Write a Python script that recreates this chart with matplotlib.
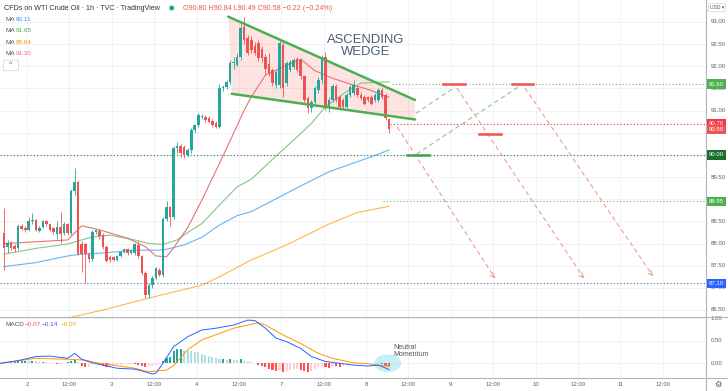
import matplotlib
matplotlib.use('Agg')
import matplotlib.pyplot as plt
import matplotlib.transforms as mtransforms
from matplotlib.patches import Ellipse, Polygon, FancyBboxPatch
from matplotlib.lines import Line2D

plt.rcParams['font.family'] = ['Liberation Sans', 'DejaVu Sans']

# ---------------- data ----------------
opens = [88.23, 87.92, 88.02, 87.95, 87.89, 88.40, 88.36, 88.31, 88.50, 88.53,
         88.29, 88.38, 88.50, 88.44, 88.35, 88.21, 88.37, 88.23, 88.44, 88.23,
         89.19, 89.40, 88.00, 88.00, 87.76, 87.64, 88.27, 88.29, 88.20, 87.93,
         87.70, 87.70, 87.63, 87.72, 87.82, 87.87, 87.79, 87.78, 87.97, 87.72,
         87.34, 86.84, 87.06, 87.23, 87.40, 87.29, 88.55, 88.82, 88.61, 90.15,
         90.20, 90.17, 89.99, 90.10, 90.56, 90.67, 90.86, 90.86, 90.84, 90.76,
         90.73, 90.64, 91.52, 91.54, 91.65, 92.08, 92.03, 92.22, 92.89, 92.63,
         92.60, 92.45, 92.52, 92.40, 92.22, 92.05, 91.92, 91.58, 91.58, 92.48,
         91.62, 91.92, 91.99, 92.16, 92.14, 91.77, 91.28, 91.05, 91.20, 91.47,
         91.69, 92.22, 91.05, 91.24, 91.55, 91.31, 91.24, 91.09, 91.35, 91.39,
         91.50, 91.35, 91.31, 91.31, 91.31, 91.24, 91.24, 91.47, 91.35, 90.80]
highs = [88.80, 88.08, 88.05, 88.00, 88.45, 88.44, 88.40, 88.60, 88.70, 88.56,
         88.40, 88.52, 88.53, 88.47, 88.38, 88.50, 88.72, 88.48, 88.47, 89.22,
         89.70, 89.44, 88.05, 88.02, 87.80, 88.30, 88.33, 88.32, 88.24, 87.96,
         87.74, 87.73, 87.75, 87.84, 87.90, 87.90, 87.88, 88.02, 88.05, 87.75,
         87.38, 87.10, 87.26, 87.47, 87.45, 88.60, 88.95, 88.85, 90.20, 90.30,
         90.25, 90.22, 90.15, 90.60, 90.70, 90.95, 90.92, 90.90, 90.88, 90.80,
         90.76, 91.60, 91.58, 91.70, 92.15, 92.20, 92.30, 92.95, 93.12, 92.70,
         92.68, 92.55, 92.60, 92.45, 92.28, 92.30, 91.96, 91.92, 92.56, 92.56,
         92.12, 92.14, 92.18, 92.22, 92.18, 91.80, 91.32, 91.25, 91.55, 91.75,
         92.25, 92.33, 91.30, 91.60, 91.60, 91.35, 91.28, 91.40, 91.58, 91.70,
         91.55, 91.42, 91.36, 91.34, 91.36, 91.40, 91.52, 91.52, 91.40, 90.84]
lows = [87.40, 87.78, 87.85, 87.82, 87.86, 88.30, 88.26, 88.28, 88.45, 88.28,
        88.25, 88.35, 88.40, 88.28, 88.22, 88.10, 88.02, 88.20, 88.20, 88.20,
        89.10, 87.74, 87.36, 87.12, 87.58, 87.60, 88.22, 88.10, 87.88, 87.58,
        87.58, 87.60, 87.60, 87.70, 87.78, 87.75, 87.76, 87.75, 87.68, 87.30,
        86.78, 86.76, 87.00, 87.18, 87.26, 87.25, 88.50, 88.40, 88.55, 90.05,
        89.95, 89.93, 89.95, 90.05, 90.50, 90.62, 90.80, 90.75, 90.72, 90.62,
        90.60, 90.60, 91.45, 91.48, 91.60, 91.95, 92.00, 92.15, 92.50, 92.25,
        92.30, 92.25, 92.12, 92.10, 91.80, 91.78, 91.55, 91.52, 91.52, 91.31,
        91.55, 91.88, 91.95, 91.88, 91.72, 91.20, 90.95, 90.98, 91.15, 91.40,
        91.60, 91.02, 90.98, 91.20, 91.20, 91.05, 91.05, 91.05, 91.30, 91.35,
        91.30, 91.24, 91.12, 91.20, 91.12, 91.20, 91.20, 91.26, 90.78, 90.49]
closes = [87.89, 88.02, 87.90, 87.88, 88.40, 88.33, 88.30, 88.51, 88.53, 88.31,
          88.36, 88.50, 88.44, 88.31, 88.27, 88.37, 88.21, 88.44, 88.23, 89.19,
          89.40, 87.76, 87.76, 87.76, 87.64, 88.27, 88.30, 88.16, 87.93, 87.61,
          87.63, 87.63, 87.72, 87.82, 87.88, 87.79, 87.85, 87.99, 87.72, 87.34,
          86.84, 87.06, 87.23, 87.44, 87.29, 88.55, 88.82, 88.61, 90.15, 90.20,
          90.05, 89.99, 90.10, 90.56, 90.67, 90.90, 90.88, 90.79, 90.75, 90.67,
          90.64, 91.52, 91.54, 91.65, 92.08, 92.10, 92.22, 92.86, 92.59, 92.29,
          92.36, 92.30, 92.18, 92.18, 91.95, 91.84, 91.62, 91.88, 92.52, 91.50,
          92.07, 92.10, 92.14, 91.92, 91.77, 91.24, 91.05, 91.20, 91.50, 91.69,
          92.20, 91.09, 91.24, 91.55, 91.24, 91.09, 91.09, 91.35, 91.53, 91.58,
          91.35, 91.28, 91.16, 91.24, 91.16, 91.35, 91.47, 91.31, 90.83, 90.58]

ma_red_x = [0, 9, 18, 22, 27, 35, 40, 43, 46, 48, 52, 56, 61, 65, 68, 70, 74, 79, 84, 88, 93, 98, 103, 109]
ma_red_y = [88.00, 88.04, 88.08, 88.40, 88.31, 88.12, 87.93, 87.72, 87.70, 87.90, 88.36, 88.98,
            89.81, 90.49, 91.01, 91.31, 91.80, 91.99, 92.16, 91.90, 91.73, 91.60, 91.48, 91.30]
ma_green_x = [0, 9, 18, 25, 30, 37, 41, 45, 49, 52, 56, 61, 66, 70, 76, 83, 87, 91, 97, 101, 109]
ma_green_y = [87.76, 87.89, 87.99, 88.15, 88.19, 88.08, 88.00, 87.98, 88.08, 88.25, 88.45, 88.87,
              89.28, 89.45, 89.90, 90.41, 90.71, 91.09, 91.43, 91.62, 91.65]
ma_blue_x = [0, 9, 18, 22, 27, 37, 44, 46, 51, 56, 61, 66, 70, 84, 92, 104, 109]
ma_blue_y = [87.48, 87.57, 87.72, 87.76, 87.78, 87.85, 87.85, 87.87, 87.97, 88.14, 88.42, 88.63,
             88.72, 89.30, 89.62, 89.96, 90.11]
ma_orange_x = [17, 28, 41, 56, 61, 70, 80, 92, 100, 109]
ma_orange_y = [86.30, 86.50, 86.77, 87.06, 87.25, 87.63, 87.97, 88.44, 88.70, 88.84]

macd_x = [-1, 4, 9, 13, 18, 20, 22, 25, 32, 37, 40, 42, 43, 45, 48, 52, 56, 60, 65, 69, 71,
          74, 77, 80, 84, 87, 91, 95, 99, 103, 106, 109]
macd_y = [0.00, 0.06, 0.15, 0.16, 0.11, 0.22, 0.09, 0.01, -0.11, -0.13, -0.19, -0.24, -0.22, 0.00,
          0.37, 0.59, 0.74, 0.78, 0.85, 0.96, 0.95, 0.78, 0.56, 0.48, 0.33, 0.15, 0.04, 0.00, -0.04,
          -0.06, -0.04, -0.14]
signal_x = [-1, 9, 18, 23, 27, 37, 41, 46, 48, 52, 56, 65, 72, 74, 79, 84, 89, 93, 99, 103, 109]
signal_y = [0.00, 0.11, 0.09, 0.07, 0.00, -0.11, -0.19, -0.15, -0.05, 0.30, 0.52, 0.78, 0.90, 0.85,
            0.63, 0.44, 0.22, 0.11, 0.01, -0.01, -0.07]
hist = [0.01, 0.01, 0.02, 0.03, 0.05, 0.05, 0.06, 0.05, 0.05, 0.04,
        0.03, 0.03, 0.02, 0.01, 0.00, -0.01, -0.01, 0.01, 0.02, 0.05,
        0.07, 0.03, -0.05, -0.08, -0.08, -0.04, -0.02, -0.03, -0.06, -0.08,
        -0.07, -0.06, -0.04, -0.03, -0.02, -0.02, -0.01, -0.02, -0.04, -0.07,
        -0.08, -0.07, -0.05, -0.03, -0.02, 0.06, 0.12, 0.15, 0.27, 0.31,
        0.32, 0.30, 0.28, 0.27, 0.26, 0.24, 0.21, 0.19, 0.16, 0.14,
        0.11, 0.09, 0.09, 0.08, 0.09, 0.08, 0.07, 0.10, 0.06, 0.04,
        0.02, 0.00, -0.03, -0.06, -0.09, -0.12, -0.15, -0.18, -0.16, -0.20,
        -0.18, -0.15, -0.13, -0.12, -0.15, -0.18, -0.19, -0.17, -0.12, -0.09,
        -0.07, -0.09, -0.10, -0.06, -0.07, -0.08, -0.07, -0.04, -0.02, -0.02,
        -0.01, -0.01, -0.02, -0.01, 0.00, 0.01, 0.00, -0.02, -0.05, -0.07]

time_labels = ["2", "12:00", "3", "12:00", "4", "12:00", "7", "12:00", "8", "12:00",
               "9", "12:00", "10", "12:00", "11", "12:00"]
price_ticks = [86.5, 87.0, 87.5, 88.0, 88.5, 89.0, 89.5, 90.0, 90.5, 91.0, 91.5, 92.0, 92.5, 93.0]
hidden_ticks = [89.0, 90.0]   # fully covered by level labels in the reference
macd_ticks = [0.0, 0.5, 1.0]

# chart drawings (bar index, price)
wedge_upper = [(63.5, 93.12), (116.35, 91.24)]
wedge_lower = [(64.46, 91.38), (116.35, 90.80)]
level_prices = [91.60, 90.70, 90.00, 88.95, 87.10]
level_starts = [109.8, 109.2, None, 107.3, None]
level_colors = ['#66bb6a', '#e53935', '#2e7d32', '#66bb6a', '#5c6bc0']
target_segments = [((124.3, 130.5), 91.60), ((143.7, 149.8), 91.60), ((134.5, 140.7), 90.47)]
support_segment = ((114.1, 120.3), 90.00)
green_paths = [((116.6, 90.94), (127.7, 91.53)), ((116.8, 90.02), (146.1, 91.56))]
red_paths = [((111.3, 90.63), (139.0, 87.22)), ((128.2, 91.51), (164.2, 87.22)),
             ((147.5, 91.51), (183.7, 87.27))]

# ---------------- figure ----------------
W, H = 728, 391
fig = plt.figure(figsize=(W / 100, H / 100), dpi=100)
fig.patch.set_facecolor('white')
ax = fig.add_axes([0, 1 - 317 / H, 706 / W, 317 / H])
axm = fig.add_axes([0, 1 - 378 / H, 706 / W, 61 / H])

XMIN, XMAX = -1.144, 198.74
ax.set_xlim(XMIN, XMAX)
ax.set_ylim(86.342, 93.4965)
axm.set_xlim(XMIN, XMAX)
axm.set_ylim(-0.327, 1.029)

tick_pos = [6.5 + 12 * k for k in range(len(time_labels))]
grid_c = '#eef0f4'
for a in (ax, axm):
    for s in a.spines.values():
        s.set_visible(False)
    a.set_xticks([])
    a.set_yticks([])
    for t in tick_pos:
        a.axvline(t, color=grid_c, lw=0.6, zorder=0)
for p in price_ticks:
    ax.axhline(p, color=grid_c, lw=0.6, zorder=0)
for m in macd_ticks:
    axm.axhline(m, color=grid_c, lw=0.6, zorder=0)

up_c, dn_c = '#26a69a', '#ef5350'
# wedge fill
(ux0, uy0), (ux1, uy1) = wedge_upper
(lx0, ly0), (lx1, ly1) = wedge_lower
ax.add_patch(Polygon([(ux0, uy0), (ux1, uy1), (lx1, ly1), (lx0, ly0)], closed=True,
                     facecolor='#f44336', alpha=0.14, edgecolor='none', zorder=1))

# moving averages
ax.plot(ma_orange_x, ma_orange_y, color='#ffb74d', lw=0.8, zorder=2)
ax.plot(ma_blue_x, ma_blue_y, color='#64b5f6', lw=0.8, zorder=2)
ax.plot(ma_green_x, ma_green_y, color='#81c784', lw=0.8, zorder=2)
ax.plot(ma_red_x, ma_red_y, color='#e57373', lw=0.8, zorder=2)

# candles
for i, (o, h, l, c) in enumerate(zip(opens, highs, lows, closes)):
    col = up_c if c >= o else dn_c
    ax.vlines(i, l, h, color=col, lw=0.6, zorder=3)
    ax.bar(i, max(abs(c - o), 0.012), bottom=min(o, c), width=0.72, color=col,
           edgecolor='none', zorder=4)

# wedge lines
ax.plot([ux0, ux1], [uy0, uy1], color='#4caf50', lw=1.8, zorder=5, solid_capstyle='round')
ax.plot([lx0, lx1], [ly0, ly1], color='#4caf50', lw=1.8, zorder=5, solid_capstyle='round')

# horizontal levels
for p, s, col in zip(level_prices, level_starts, level_colors):
    x0 = XMIN if s is None else s
    ax.plot([x0, XMAX], [p, p], color=col, lw=0.8, ls=(0, (1, 2)), zorder=2)

for (x0, x1), p in target_segments:
    ax.plot([x0, x1], [p, p], color='#ef5350', lw=1.8, zorder=5)
(sx0, sx1), sp = support_segment
ax.plot([sx0, sx1], [sp, sp], color='#43a047', lw=1.8, zorder=5)

for (a0, a1) in green_paths:
    ax.plot([a0[0], a1[0]], [a0[1], a1[1]], color='#8bc48f', lw=0.8, ls=(0, (4, 3)), zorder=2)
for (a0, a1) in red_paths:
    ax.plot([a0[0], a1[0]], [a0[1], a1[1]], color='#ef9a9a', lw=0.8, ls=(0, (4, 3)), zorder=2)
    ax.annotate('', xy=a1, xytext=(a1[0] - 0.9, a1[1] + 0.08),
                arrowprops=dict(arrowstyle='->', color='#ef9a9a', lw=0.8, mutation_scale=7))

ax.text(102.5, 92.46, 'ASCENDING\nWEDGE', ha='center', va='center', fontsize=9.4,
        color='#4a5e72', family=['Liberation Sans'], linespacing=1.02, zorder=6)

# MACD pane
hcols = []
prev = 0.0
for v in hist:
    if v >= 0:
        hcols.append('#26a69a' if v >= prev else '#b2dfdb')
    else:
        hcols.append('#ff5252' if v < prev else '#ffcdd2')
    prev = v
axm.bar(range(len(hist)), hist, width=0.6, color=hcols, zorder=2)
axm.plot(signal_x, signal_y, color='#ff9800', lw=0.7, zorder=3)
axm.plot(macd_x, macd_y, color='#2962ff', lw=0.7, zorder=3)
axm.add_patch(Ellipse((108.6, 0.0), 7.6, 0.40, facecolor='#80deea', alpha=0.45,
                      edgecolor='none', zorder=1))
axm.text(110.3, 0.43, 'Neutral\nMomentum', ha='left', va='top', fontsize=5,
         color='#555555', linespacing=1.0, zorder=4)

# ---------------- axes labels / chrome ----------------
lab_c = '#5d606b'
bt = mtransforms.blended_transform_factory(fig.transFigure, ax.transData)
for p in price_ticks:
    if p in hidden_ticks:
        continue
    ax.text(711 / W, p, f'{p:.2f}', transform=bt, ha='left', va='center', fontsize=4.3,
            color=lab_c, clip_on=False)
btm = mtransforms.blended_transform_factory(fig.transFigure, axm.transData)
for m in macd_ticks:
    axm.text(711 / W, m, f'{m:.2f}', transform=btm, ha='left', va='center', fontsize=4.3,
             color=lab_c, clip_on=False)

box_labels = [(91.60, '#4caf50'), (90.70, '#f23645'), (90.58, '#ef5350'),
              (90.00, '#1b6e2a'), (88.95, '#4caf50'), (87.10, '#2962ff')]
for p, col in box_labels:
    ax.text(716.5 / W, p, f'{p:.2f}', transform=bt, ha='center', va='center', fontsize=4.3,
            color='white', clip_on=False, zorder=10,
            bbox=dict(boxstyle='square,pad=0.35', fc=col, ec='none'))

bx = mtransforms.blended_transform_factory(axm.transData, fig.transFigure)
for t, lab in zip(tick_pos, time_labels):
    axm.text(t, 7 / H, lab, transform=bx, ha='center', va='center', fontsize=4.3,
             color=lab_c, clip_on=False)

line_c = '#b2b5be'
fig.add_artist(Line2D([0, 1], [1 - 317 / H] * 2, transform=fig.transFigure, color=line_c, lw=0.8))
fig.add_artist(Line2D([0, 1], [1 - 378 / H] * 2, transform=fig.transFigure, color=line_c, lw=0.8))
fig.add_artist(Line2D([706 / W] * 2, [0, 1], transform=fig.transFigure, color=line_c, lw=0.8))

fig.text(718 / W, 1 - 384 / H, '\u2699', ha='center', va='center', fontsize=6,
         color='#555555', family=['DejaVu Sans'])
fig.text(717 / W, 1 - 7.5 / H, 'USD \u25be', ha='center', va='center', fontsize=3.6,
         color='#555555', family=['Liberation Sans', 'DejaVu Sans'],
         bbox=dict(boxstyle='round,pad=0.3', fc='white', ec='#d0d3da', lw=0.5))

# header
fig.text(4 / W, 1 - 8 / H, 'CFDs on WTI Crude Oil \u00b7 1h \u00b7 TVC \u00b7 TradingView',
         ha='left', va='center', fontsize=5.1, color='#333333')
fig.add_artist(Ellipse((171.7 / W, 1 - 8 / H), 5 / W, 5 / H, transform=fig.transFigure,
                       facecolor='#26a69a', edgecolor='none'))
fig.text(183 / W, 1 - 8 / H, 'O90.80 H90.84 L90.49 C90.58 \u22120.22 (\u22120.24%)',
         ha='left', va='center', fontsize=5.1, color='#ef5350')

ma_legend = [('90.11', '#2196f3'), ('91.65', '#4caf50'), ('88.84', '#ff9800'), ('91.30', '#e57373')]
for k, (val, col) in enumerate(ma_legend):
    yy = 1 - (19.3 + 11.35 * k) / H
    fig.text(5 / W, yy, 'MA', ha='left', va='center', fontsize=4.6, color='#555555')
    fig.text(16 / W, yy, val, ha='left', va='center', fontsize=4.6, color=col)
fig.add_artist(FancyBboxPatch((5 / W, 1 - 70 / H), 12 / W, 9 / H, boxstyle='round,pad=0.002',
                              transform=fig.transFigure, facecolor='white', edgecolor='#d0d3da',
                              lw=0.5))
fig.text(11 / W, 1 - 65 / H, '^', ha='center', va='center', fontsize=5, color='#555555')

fig.text(5 / W, 1 - 324 / H, 'MACD', ha='left', va='center', fontsize=4.6, color='#555555')
fig.text(25 / W, 1 - 324 / H, '\u22120.07', ha='left', va='center', fontsize=4.6, color='#ef5350')
fig.text(42 / W, 1 - 324 / H, '\u22120.14', ha='left', va='center', fontsize=4.6, color='#2962ff')
fig.text(61 / W, 1 - 324 / H, '\u22120.07', ha='left', va='center', fontsize=4.6, color='#ff9800')

fig.savefig('out.png', dpi=100)
